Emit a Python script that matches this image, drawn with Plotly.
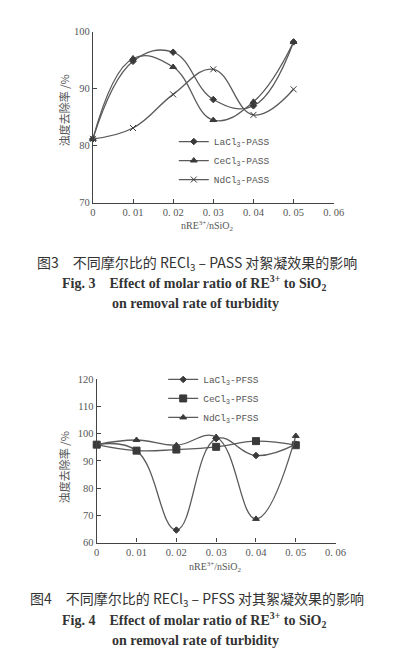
import plotly.graph_objects as go

# ---------------- data ----------------
ratio = [0, 0.01, 0.02, 0.03, 0.04, 0.05]

fig3_names = ["LaCl<sub>3</sub>-PASS", "CeCl<sub>3</sub>-PASS", "NdCl<sub>3</sub>-PASS"]
fig3_la = [81.2, 94.8, 96.4, 88.1, 87.0, 98.2]
fig3_ce = [81.2, 95.3, 93.8, 84.5, 87.7, 98.2]
fig3_nd = [81.2, 83.1, 89.0, 93.4, 85.4, 89.9]

fig4_names = ["LaCl<sub>3</sub>-PFSS", "CeCl<sub>3</sub>-PFSS", "NdCl<sub>3</sub>-PFSS"]
fig4_la = [96.0, 93.8, 64.6, 98.2, 92.0, 96.2]
fig4_ce = [96.0, 93.8, 94.2, 95.2, 97.3, 95.8]
fig4_nd = [96.0, 97.7, 95.8, 98.8, 68.7, 99.2]

x_tickvals = [0, 0.01, 0.02, 0.03, 0.04, 0.05, 0.06]
x_ticktext = ["0", "0. 01", "0. 02", "0. 03", "0. 04", "0. 05", "0. 06"]
fig3_yticks = [70, 80, 90, 100]
fig4_yticks = [60, 70, 80, 90, 100, 110, 120]

# ---------------- style ----------------
WIN_W, WIN_H = 397, 664
BODY = 8                      # default body margin of the html page
W, H = WIN_W - 2 * BODY, WIN_H - 2 * BODY
LINE = "#5a5a5a"
AX = "#444444"
TXT = "#333333"
SERIF = "Liberation Serif, Times New Roman, serif"
MONO = "Liberation Mono, Courier New, monospace"
CJK = "Noto Sans CJK SC"

def px_x(p):
    # p: x position in window pixels
    return (p - BODY) / W

def px_y(p):
    return 1 - (p - BODY) / H

fig = go.Figure()

def add(x, y, name, symbol, size, xa, ya, leg):
    fig.add_trace(go.Scatter(
        x=x, y=y, name=name, mode="lines+markers",
        line=dict(color=LINE, width=1.3, shape="spline", smoothing=1.2),
        marker=dict(symbol=symbol, size=size, color="#3a3a3a",
                    line=dict(color="#3a3a3a", width=1)),
        xaxis=xa, yaxis=ya, legend=leg, cliponaxis=False,
    ))

add(ratio, fig3_la, fig3_names[0], "diamond", 5, "x", "y", "legend")
add(ratio, fig3_ce, fig3_names[1], "triangle-up", 6, "x", "y", "legend")
add(ratio, fig3_nd, fig3_names[2], "x-thin", 6, "x", "y", "legend")

add(ratio, fig4_la, fig4_names[0], "diamond", 5, "x2", "y2", "legend2")
add(ratio, fig4_ce, fig4_names[1], "square", 7, "x2", "y2", "legend2")
add(ratio, fig4_nd, fig4_names[2], "triangle-up", 6, "x2", "y2", "legend2")

axis_common = dict(showline=True, linecolor=AX, linewidth=1.2, showgrid=False,
                   zeroline=False, ticks="inside", tickcolor=AX, ticklen=4,
                   tickfont=dict(family=SERIF, size=10.5, color="#555555"))

fig.update_layout(
    width=W, height=H, autosize=False,
    margin=dict(l=0, r=0, t=0, b=0),
    paper_bgcolor="white", plot_bgcolor="white",
    xaxis=dict(domain=[px_x(93), px_x(343)], range=[0, 0.06], anchor="y",
               tickvals=x_tickvals, ticktext=x_ticktext, **axis_common),
    yaxis=dict(domain=[px_y(201), px_y(27)], range=[70, 100], anchor="x",
               tickvals=fig3_yticks, **axis_common),
    xaxis2=dict(domain=[px_x(97), px_x(345)], range=[0, 0.06], anchor="y2",
                tickvals=x_tickvals, ticktext=x_ticktext, **axis_common),
    yaxis2=dict(domain=[px_y(546.7), px_y(380.7)], range=[60, 120], anchor="x2",
                tickvals=fig4_yticks, **axis_common),
    legend=dict(x=px_x(177), y=px_y(124), xanchor="left", yanchor="top",
                bgcolor="rgba(0,0,0,0)", itemwidth=30,
                font=dict(family=MONO, size=9.5, color="#555555")),
    legend2=dict(x=px_x(166), y=px_y(366), xanchor="left", yanchor="top",
                 bgcolor="rgba(0,0,0,0)", itemwidth=30,
                 font=dict(family=MONO, size=9.5, color="#555555")),
    showlegend=True,
)

ann = []
# y-axis titles
for yc in (107, 470):
    ann.append(dict(text="浊度去除率 /%", x=px_x(63), y=px_y(yc), xref="paper", yref="paper",
                    xanchor="center", yanchor="middle",
                    textangle=-90, showarrow=False,
                    font=dict(family=CJK, size=11, color="#555555")))
# x-axis titles
for xc, yc in ((212, 225), (220, 572)):
    ann.append(dict(text="nRE<sup>3+</sup>/nSiO<sub>2</sub>", x=px_x(xc), y=px_y(yc),
                    xref="paper", yref="paper", xanchor="center", yanchor="middle",
                    showarrow=False, font=dict(family=SERIF, size=10, color="#555555")))

# captions
def caption(cn, en1, en2, ys):
    xc = px_x(201)
    ann.append(dict(text=cn, x=xc, y=px_y(ys[0]), xref="paper", yref="paper",
                    xanchor="center", yanchor="middle",
                    showarrow=False, font=dict(family=CJK, size=14, color=TXT)))
    ann.append(dict(text=en1, x=px_x(198), y=px_y(ys[1]), xref="paper", yref="paper",
                    xanchor="center", yanchor="middle",
                    showarrow=False, font=dict(family=SERIF, size=14, color=TXT)))
    ann.append(dict(text=en2, x=px_x(200), y=px_y(ys[2]), xref="paper", yref="paper",
                    xanchor="center", yanchor="middle",
                    showarrow=False, font=dict(family=SERIF, size=14, color=TXT)))

caption("图3　不同摩尔比的 RECl<sub>3</sub> – PASS 对絮凝效果的影响",
        "<b>Fig. 3　Effect of molar ratio of RE<sup>3+</sup> to SiO<sub>2</sub></b>",
        "<b>on removal rate of turbidity</b>", [262, 283, 304])
caption("图4　不同摩尔比的 RECl<sub>3</sub> – PFSS 对其絮凝效果的影响",
        "<b>Fig. 4　Effect of molar ratio of RE<sup>3+</sup> to SiO<sub>2</sub></b>",
        "<b>on removal rate of turbidity</b>", [604, 625, 646])

fig.update_layout(annotations=ann)
fig.write_html("out.html")
